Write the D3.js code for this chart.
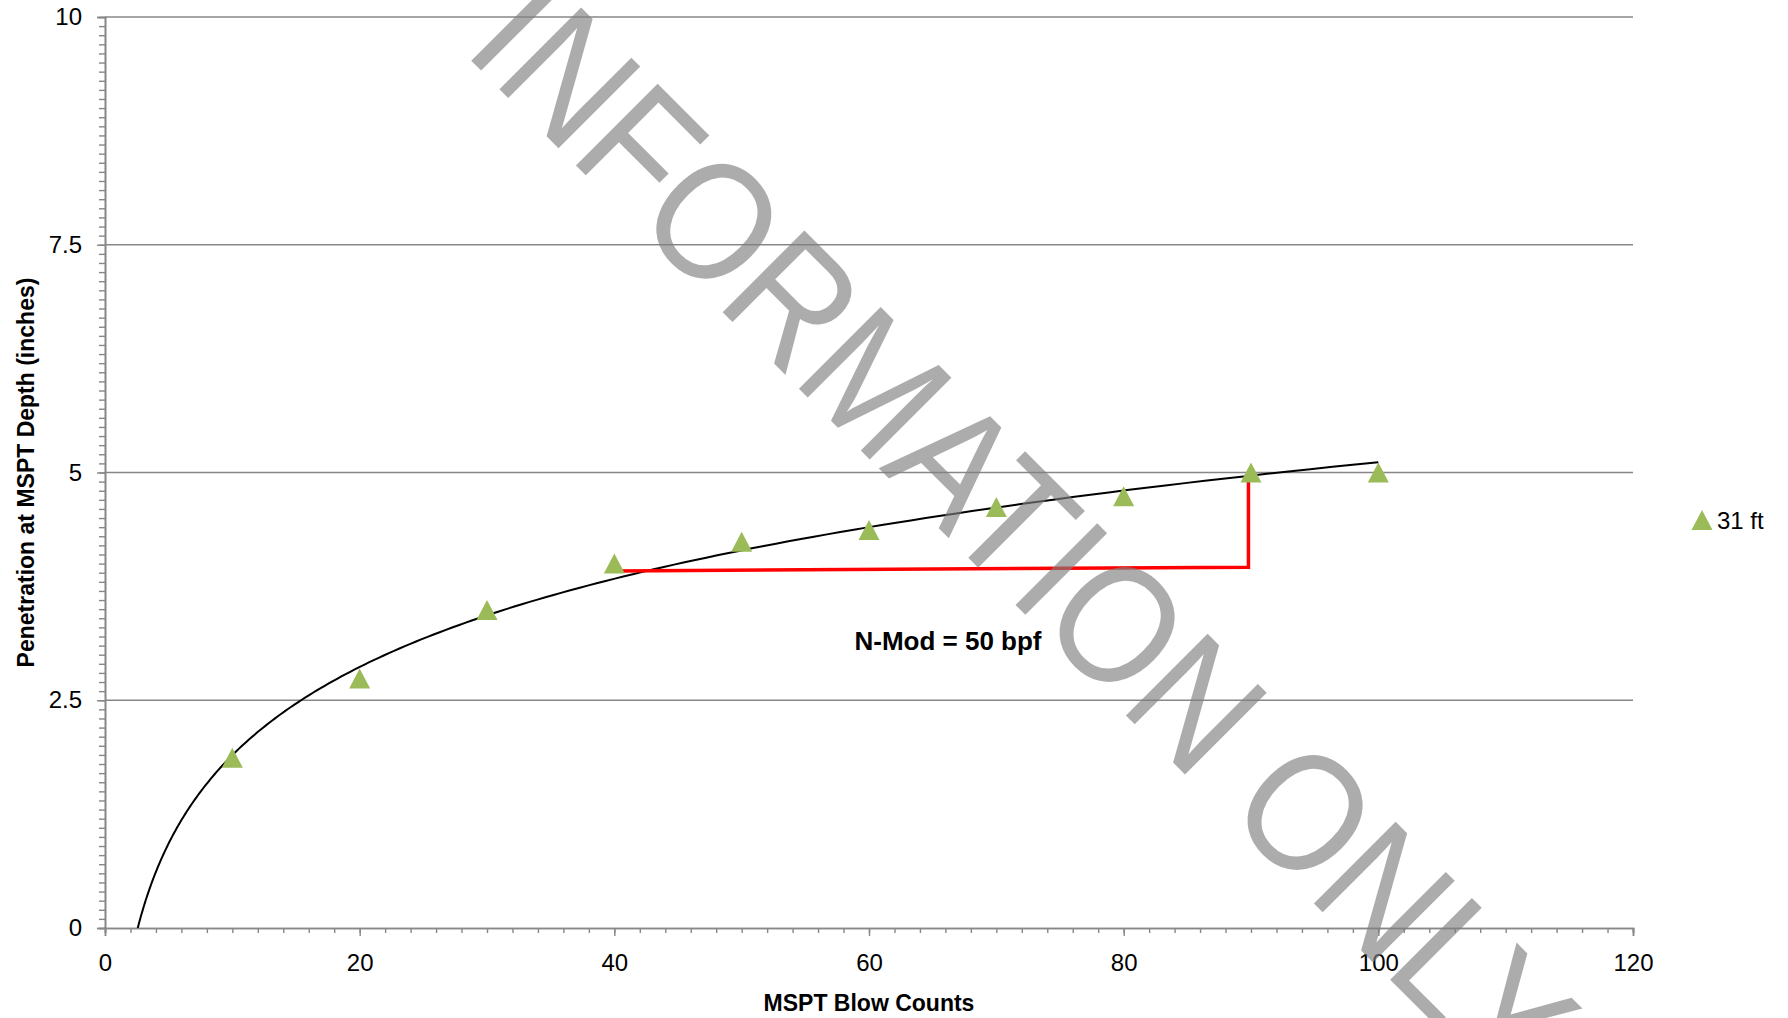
<!DOCTYPE html>
<html>
<head>
<meta charset="utf-8">
<script src="https://cdn.jsdelivr.net/npm/d3@7"></script>
<style>
  body { margin: 0; background: #fff; }
  svg { display: block; font-family: "Liberation Sans", Arial, sans-serif; }
  .tick text { fill: #000; }
</style>
</head>
<body>
<svg id="chart" width="1788" height="1018"></svg>
<script>
// data
const blows = [10, 20, 30, 40, 50, 60, 70, 80, 90, 100];
const penetration = [1.87, 2.74, 3.49, 4.0, 4.24, 4.37, 4.62, 4.74, 5.0, 5.0];
const nmodX = [40.2, 89.8, 89.8];       // red N-Mod marker line
const nmodY = [3.92, 3.96, 4.95];
const xTicks = [0, 20, 40, 60, 80, 100, 120];
const yTicks = [0, 2.5, 5, 7.5, 10];
const yTickLabels = ["0", "2.5", "5", "7.5", "10"];
const seriesName = "31 ft";
const noteText = "N-Mod = 50 bpf";
const watermark = "INFORMATION ONLY";

const svg = d3.select("#chart");
const pl = 105, pr = 1633, pt = 17, pb = 928;

const x = d3.scaleLinear().domain([0, 120]).range([pl, pr]);
const y = d3.scaleLinear().domain([0, 10]).range([pb, pt]);

// horizontal gridlines
svg.append("g")
  .selectAll("line")
  .data(yTicks.filter(d => d > 0))
  .join("line")
  .attr("x1", pl).attr("x2", pr)
  .attr("y1", d => y(d)).attr("y2", d => y(d))
  .attr("stroke", "#878787").attr("stroke-width", 1.4);

// y axis: minor + major ticks
const yMinor = svg.append("g").attr("transform", `translate(${pl},0)`)
  .call(d3.axisLeft(y).tickValues(d3.range(0, 101).map(i => i / 10)).tickSize(6).tickFormat(""));
const yMajor = svg.append("g").attr("transform", `translate(${pl},0)`)
  .call(d3.axisLeft(y).tickValues(yTicks).tickSize(8).tickPadding(15)
    .tickFormat((d, i) => yTickLabels[i]));

// x axis
const xMinor = svg.append("g").attr("transform", `translate(0,${pb})`)
  .call(d3.axisBottom(x).tickValues(d3.range(0, 121, 2)).tickSize(5).tickFormat(""));
const xMajor = svg.append("g").attr("transform", `translate(0,${pb})`)
  .call(d3.axisBottom(x).tickValues(xTicks).tickSize(8).tickPadding(18));

[yMinor, yMajor, xMinor, xMajor].forEach(g => {
  g.selectAll("path.domain").attr("stroke", "#878787").attr("stroke-width", 1.6);
  g.selectAll(".tick line").attr("stroke", "#878787").attr("stroke-width", 1.4);
  g.selectAll(".tick text").attr("font-size", 24).attr("font-family", "Liberation Sans, Arial, sans-serif");
});
xMajor.selectAll(".tick text").attr("dy", "0.71em");

// log trendline fitted to the points
const lx = blows.map(Math.log);
const mx = d3.mean(lx), my = d3.mean(penetration);
const slope = d3.sum(lx, (v, i) => (v - mx) * (penetration[i] - my)) / d3.sum(lx, v => (v - mx) ** 2);
const icpt = my - slope * mx;
const x0 = Math.exp(-icpt / slope);
const trend = d3.range(0, 201).map(i => {
  const bx = x0 * Math.pow(100 / x0, i / 200);
  return [bx, slope * Math.log(bx) + icpt];
});
svg.append("path")
  .datum(trend)
  .attr("d", d3.line().x(d => x(d[0])).y(d => y(d[1])))
  .attr("fill", "none").attr("stroke", "#000").attr("stroke-width", 2);

// red N-Mod line
svg.append("path")
  .datum(nmodX.map((v, i) => [v, nmodY[i]]))
  .attr("d", d3.line().x(d => x(d[0])).y(d => y(d[1])))
  .attr("fill", "none").attr("stroke", "#ff0000").attr("stroke-width", 3.5);

// triangle markers
const tri = "M0,-10L10.5,10L-10.5,10Z";
svg.append("g")
  .selectAll("path")
  .data(blows)
  .join("path")
  .attr("d", tri)
  .attr("transform", (d, i) => `translate(${x(d)},${y(penetration[i])})`)
  .attr("fill", "#9bbb59");

// annotation
svg.append("text")
  .attr("x", 948).attr("y", 650)
  .attr("text-anchor", "middle")
  .attr("font-size", 26).attr("font-weight", "bold")
  .text(noteText);

// axis titles
svg.append("text")
  .attr("x", (pl + pr) / 2).attr("y", 1011)
  .attr("text-anchor", "middle")
  .attr("font-size", 23).attr("font-weight", "bold")
  .text("MSPT Blow Counts");

svg.append("text")
  .attr("transform", `translate(34,${(pt + pb) / 2}) rotate(-90)`)
  .attr("text-anchor", "middle")
  .attr("font-size", 23).attr("font-weight", "bold")
  .text("Penetration at MSPT Depth (inches)");

// legend
svg.append("path").attr("d", tri).attr("transform", "translate(1702,520)").attr("fill", "#9bbb59");
svg.append("text").attr("x", 1717).attr("y", 529).attr("font-size", 24).text(seriesName);

// watermark
svg.append("text")
  .attr("transform", "translate(1025,529) rotate(45) scale(0.89,1)")
  .attr("text-anchor", "middle")
  .attr("dy", "0.36em")
  .attr("font-size", 168)
  .attr("fill", "#7f7f7f")
  .attr("fill-opacity", 0.65)
  .text(watermark);
</script>
</body>
</html>
